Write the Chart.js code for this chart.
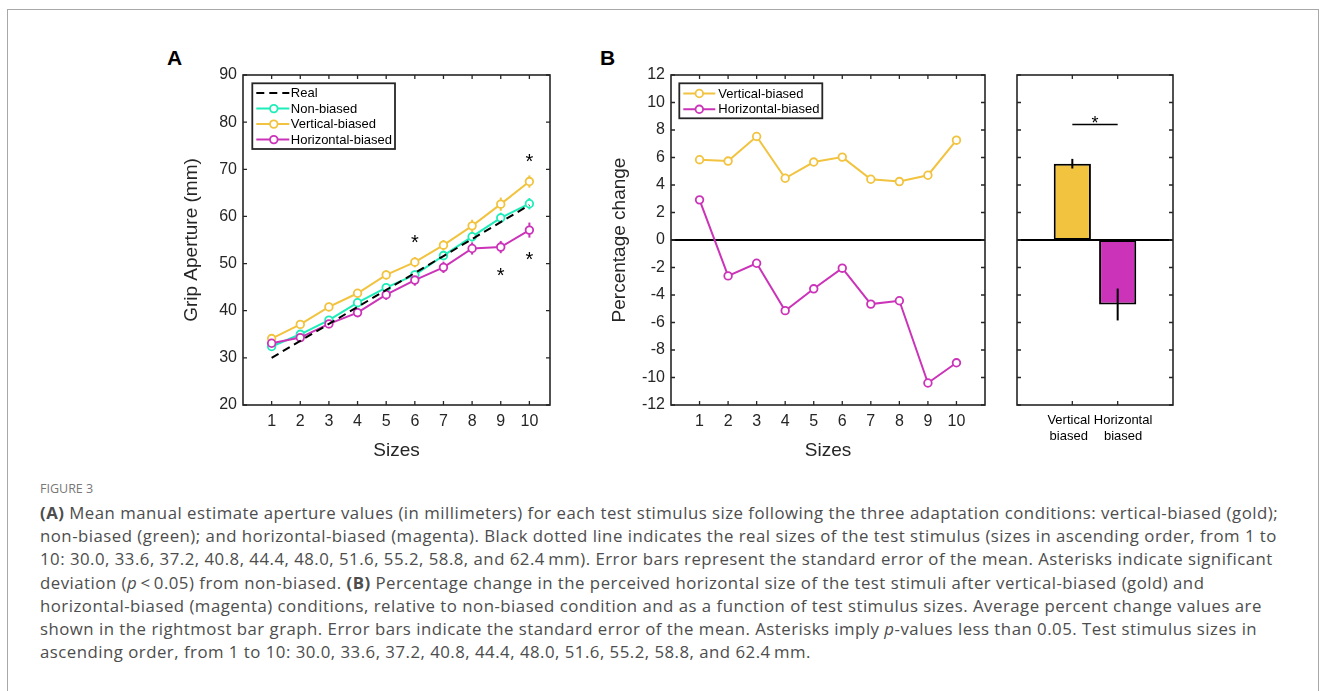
<!DOCTYPE html>
<html>
<head>
<meta charset="utf-8">
<script src="https://cdn.jsdelivr.net/npm/chart.js@4.4.0/dist/chart.umd.min.js"></script>
<style>
  html,body{margin:0;padding:0;background:#fff;}
  body{width:1330px;height:691px;overflow:hidden;position:relative;font-family:"Liberation Sans",Arial,sans-serif;}
  #frame{position:absolute;left:7px;top:9px;width:1312px;height:720px;border:1px solid #a8a8a8;box-sizing:border-box;}
  canvas{position:absolute;}
  #cA{left:150px;top:45px;}
  #cB{left:575px;top:45px;}
  #cC{left:1000px;top:45px;}
  .plab{position:absolute;font:bold 21px/1 "Liberation Sans",Arial,sans-serif;color:#000;}
  #cap{position:absolute;left:40px;top:480px;font-family:"Open Sans","Noto Sans",sans-serif;color:#4d4d4d;}
  #cap .fig{font-size:12.5px;color:#777;margin-bottom:3px;line-height:18px;}
  #cap .ln{font-size:16.8px;line-height:23.2px;white-space:nowrap;}
</style>
</head>
<body>
<div id="frame"></div>
<div class="plab" style="left:167px;top:47px;">A</div>
<div class="plab" style="left:600px;top:47px;">B</div>
<canvas id="cA" width="420" height="435"></canvas>
<canvas id="cB" width="425" height="435"></canvas>
<canvas id="cC" width="190" height="435"></canvas>
<div id="cap">
  <div class="fig">FIGURE 3</div>
  <div class="ln"><b>(A)</b> Mean manual estimate aperture values (in millimeters) for each test stimulus size following the three adaptation conditions: vertical-biased (gold);</div>
  <div class="ln">non-biased (green); and horizontal-biased (magenta). Black dotted line indicates the real sizes of the test stimulus (sizes in ascending order, from 1 to</div>
  <div class="ln">10: 30.0, 33.6, 37.2, 40.8, 44.4, 48.0, 51.6, 55.2, 58.8, and 62.4&#8201;mm). Error bars represent the standard error of the mean. Asterisks indicate significant</div>
  <div class="ln">deviation (<i>p</i>&#8201;&lt;&#8201;0.05) from non-biased. <b>(B)</b> Percentage change in the perceived horizontal size of the test stimuli after vertical-biased (gold) and</div>
  <div class="ln">horizontal-biased (magenta) conditions, relative to non-biased condition and as a function of test stimulus sizes. Average percent change values are</div>
  <div class="ln">shown in the rightmost bar graph. Error bars indicate the standard error of the mean. Asterisks imply <i>p</i>-values less than 0.05. Test stimulus sizes in</div>
  <div class="ln">ascending order, from 1 to 10: 30.0, 33.6, 37.2, 40.8, 44.4, 48.0, 51.6, 55.2, 58.8, and 62.4&#8201;mm.</div>
</div>
<script>
// ---------------- DATA ----------------
const sizes = [1, 2, 3, 4, 5, 6, 7, 8, 9, 10];
const realSizes = [30.0, 33.6, 37.2, 40.8, 44.4, 48.0, 51.6, 55.2, 58.8, 62.4];
const nonBiased = [32.4, 35.0, 38.0, 41.7, 44.9, 47.6, 51.7, 55.7, 59.7, 62.7];
const nonBiasedErr = [0.7, 0.7, 0.8, 0.8, 0.9, 0.9, 1.0, 1.0, 1.1, 1.2];
const verticalBiased = [34.1, 37.1, 40.8, 43.7, 47.6, 50.3, 53.9, 58.0, 62.6, 67.4];
const verticalBiasedErr = [0.8, 0.8, 0.9, 0.9, 1.0, 1.1, 1.1, 1.3, 1.4, 1.3];
const horizontalBiased = [33.1, 34.3, 37.2, 39.6, 43.4, 46.5, 49.2, 53.2, 53.5, 57.1];
const horizontalBiasedErr = [0.8, 0.8, 0.9, 1.0, 1.1, 1.2, 1.2, 1.3, 1.3, 1.6];
const gripTicks = [20, 30, 40, 50, 60, 70, 80, 90];
const starsA = [{x: 6, y: 55.2}, {x: 9, y: 48.3}, {x: 10, y: 72.5}, {x: 10, y: 51.7}];

const pctVertical = [5.84, 5.74, 7.53, 4.49, 5.67, 6.03, 4.42, 4.25, 4.71, 7.26];
const pctHorizontal = [2.92, -2.61, -1.69, -5.14, -3.55, -2.05, -4.66, -4.42, -10.4, -8.93];
const pctTicks = [-12, -10, -8, -6, -4, -2, 0, 2, 4, 6, 8, 10, 12];

const barPositions = [1, 2];
const barLabels = [["Vertical  ", "biased  "], ["   Horizontal", "   biased"]];
const barMeans = [5.55, -4.69];
const barErr = [0.35, 1.16];
const barSig = {from: 1, to: 2, level: 8.4, star: 8.75};

// ---------------- STYLE ----------------
const GOLD = '#F2C33E', GREEN = '#1FEDB9', MAGENTA = '#CB33B8', AXC = '#262626';
const FONT = '"Liberation Sans", Arial, sans-serif';
const xy = (xs, ys) => xs.map((x, i) => ({x, y: ys[i]}));

// caption: even letter spacing so the first line spans the reference width
(function fitCaption() {
  const lines = document.querySelectorAll('#cap .ln');
  const first = lines[0];
  const w = first.getBoundingClientRect().width;
  const n = first.textContent.length;
  const ls = (1238 - w) / n;
  lines.forEach(l => { l.style.letterSpacing = ls.toFixed(3) + 'px'; });
})();

function drawStar(ctx, px, py, size) {
  ctx.save();
  ctx.font = size + 'px ' + FONT;
  ctx.fillStyle = '#000';
  ctx.textAlign = 'center';
  ctx.textBaseline = 'alphabetic';
  const m = ctx.measureText('*');
  ctx.fillText('*', px, py + (m.actualBoundingBoxAscent - m.actualBoundingBoxDescent) / 2);
  ctx.restore();
}

function drawErrors(chart) {
  const {ctx, chartArea: a} = chart;
  const ys = chart.scales.y;
  ctx.save();
  ctx.beginPath(); ctx.rect(a.left, a.top, a.right - a.left, a.bottom - a.top); ctx.clip();
  chart.data.datasets.forEach((ds, di) => {
    if (!ds.errors) return;
    const meta = chart.getDatasetMeta(di);
    meta.data.forEach((el, i) => {
      const v = ds.data[i].y, e = ds.errors[i];
      ctx.beginPath();
      ctx.moveTo(el.x, ys.getPixelForValue(v - e));
      ctx.lineTo(el.x, ys.getPixelForValue(v + e));
      ctx.strokeStyle = ds.errorColor || ds.borderColor;
      ctx.lineWidth = 2;
      ctx.stroke();
    });
  });
  ctx.restore();
}

function drawZero(chart) {
  const {ctx, chartArea: a} = chart;
  const y = chart.scales.y.getPixelForValue(0);
  ctx.save();
  ctx.beginPath(); ctx.moveTo(a.left, y); ctx.lineTo(a.right, y);
  ctx.strokeStyle = '#000'; ctx.lineWidth = 2; ctx.stroke();
  ctx.restore();
}

const matlabAxes = {
  id: 'matlabAxes',
  beforeDatasetsDraw(chart, args, o) {
    if (o.zero === 'before') drawZero(chart);
    if (o.errors === 'before') drawErrors(chart);
  },
  afterDatasetsDraw(chart, args, o) {
    const {ctx, chartArea: a, scales} = chart;
    if (o.zero === 'after') drawZero(chart);
    if (o.errors === 'after') drawErrors(chart);
    if (o.stars) o.stars.forEach(s => drawStar(ctx, scales.x.getPixelForValue(s.x), scales.y.getPixelForValue(s.y), 20));
    if (o.sig) {
      const y = scales.y.getPixelForValue(o.sig.level);
      ctx.save();
      ctx.beginPath();
      ctx.moveTo(scales.x.getPixelForValue(o.sig.from), y);
      ctx.lineTo(scales.x.getPixelForValue(o.sig.to), y);
      ctx.strokeStyle = '#000'; ctx.lineWidth = 1.5; ctx.stroke();
      ctx.restore();
      drawStar(ctx, scales.x.getPixelForValue((o.sig.from + o.sig.to) / 2), scales.y.getPixelForValue(o.sig.star), 18);
    }
    ctx.save();
    ctx.strokeStyle = AXC; ctx.lineWidth = 1.6;
    ctx.strokeRect(a.left, a.top, a.right - a.left, a.bottom - a.top);
    const TL = 4;
    ctx.beginPath();
    scales.x.ticks.forEach(t => {
      const px = scales.x.getPixelForValue(t.value);
      ctx.moveTo(px, a.bottom); ctx.lineTo(px, a.bottom - TL);
      ctx.moveTo(px, a.top); ctx.lineTo(px, a.top + TL);
    });
    scales.y.ticks.forEach(t => {
      const py = scales.y.getPixelForValue(t.value);
      ctx.moveTo(a.left, py); ctx.lineTo(a.left + TL, py);
      ctx.moveTo(a.right, py); ctx.lineTo(a.right - TL, py);
    });
    ctx.lineWidth = 1.3; ctx.stroke();
    ctx.restore();
    if (o.legend) {
      const L = o.legend;
      ctx.save();
      ctx.fillStyle = '#fff';
      ctx.fillRect(L.x, L.y, L.w, L.h);
      ctx.strokeStyle = AXC; ctx.lineWidth = 1.8;
      ctx.strokeRect(L.x, L.y, L.w, L.h);
      const items = chart.data.datasets.filter(d => !d.noLegend);
      items.forEach((ds, k) => {
        const cy = L.y + L.first + k * L.row;
        ctx.beginPath();
        ctx.setLineDash(ds.borderDash || []);
        ctx.moveTo(L.x + L.l0, cy); ctx.lineTo(L.x + L.l1, cy);
        ctx.strokeStyle = ds.borderColor; ctx.lineWidth = 2; ctx.stroke();
        ctx.setLineDash([]);
        if (ds.pointRadius > 0) {
          ctx.beginPath();
          ctx.arc(L.x + L.mk, cy, ds.pointRadius, 0, Math.PI * 2);
          ctx.fillStyle = '#fff'; ctx.fill();
          ctx.strokeStyle = ds.borderColor; ctx.lineWidth = ds.pointBorderWidth; ctx.stroke();
        }
        ctx.fillStyle = '#000';
        ctx.font = '13px ' + FONT;
        ctx.textAlign = 'left'; ctx.textBaseline = 'middle';
        ctx.fillText(ds.label, L.x + L.tx, cy + 0.5);
      });
      ctx.restore();
    }
  }
};

function lineDs(label, xs, ys, errs, color, order) {
  return {
    label, data: xy(xs, ys), errors: errs, borderColor: color, backgroundColor: color,
    borderWidth: 2, pointRadius: 3.8, pointBorderWidth: 1.8, pointBackgroundColor: '#fff',
    pointBorderColor: color, tension: 0, order
  };
}

function xScale(min, max, tickVals, title, extra) {
  return Object.assign({
    type: 'linear', min, max, offset: false,
    afterBuildTicks: s => { s.ticks = tickVals.map(v => ({value: v})); },
    ticks: {color: AXC, font: {family: FONT, size: 16}, padding: 7, maxRotation: 0, autoSkip: false},
    grid: {display: false, drawTicks: false, offset: false}, border: {display: false},
    title: {display: !!title, text: title, color: AXC, font: {family: FONT, size: 19}, padding: {top: 0, bottom: 17.6}},
    afterFit: s => { s.height = 75; }
  }, extra || {});
}
function yScale(min, max, tickVals, title, width, titlePad, showTicks) {
  return {
    type: 'linear', min, max,
    afterBuildTicks: s => { s.ticks = tickVals.map(v => ({value: v})); },
    ticks: {display: showTicks, color: AXC, font: {family: FONT, size: 16}, padding: 6},
    grid: {display: false, drawTicks: false}, border: {display: false},
    title: {display: !!title, text: title, color: AXC, font: {family: FONT, size: 19}, padding: {top: titlePad, bottom: 0}},
    afterFit: s => { s.width = width; }
  };
}

const common = {responsive: false, animation: false, devicePixelRatio: 1, events: []};

// ---------------- PANEL A ----------------
new Chart(document.getElementById('cA'), {
  type: 'line',
  data: {datasets: [
    {label: 'Real', data: xy(sizes, realSizes), borderColor: '#000', borderDash: [8, 5], borderWidth: 2,
     pointRadius: 0, tension: 0, order: 0},
    lineDs('Non-biased', sizes, nonBiased, nonBiasedErr, GREEN, 3),
    lineDs('Vertical-biased', sizes, verticalBiased, verticalBiasedErr, GOLD, 2),
    lineDs('Horizontal-biased', sizes, horizontalBiased, horizontalBiasedErr, MAGENTA, 1)
  ]},
  options: Object.assign({}, common, {
    layout: {padding: {top: 30, right: 20, left: 0, bottom: 0}},
    plugins: {
      legend: {display: false}, tooltip: {enabled: false},
      matlabAxes: {errors: 'before', stars: starsA,
        legend: {x: 102.3, y: 38.3, w: 142.7, h: 65.7, first: 9.8, row: 15.5, l0: 4, l1: 37, mk: 21.5, tx: 38.5}}
    },
    scales: {
      x: xScale(0, 10.72, sizes, 'Sizes'),
      y: yScale(20, 90, gripTicks, 'Grip Aperture (mm)', 93, 30.6, true)
    }
  }),
  plugins: [matlabAxes]
});

// ---------------- PANEL B ----------------
new Chart(document.getElementById('cB'), {
  type: 'line',
  data: {datasets: [
    lineDs('Vertical-biased', sizes, pctVertical, null, GOLD, 2),
    lineDs('Horizontal-biased', sizes, pctHorizontal, null, MAGENTA, 1)
  ]},
  options: Object.assign({}, common, {
    layout: {padding: {top: 30, right: 15, left: 0, bottom: 0}},
    plugins: {
      legend: {display: false}, tooltip: {enabled: false},
      matlabAxes: {zero: 'before',
        legend: {x: 104.3, y: 38.3, w: 143, h: 35, first: 10.2, row: 15.8, l0: 4, l1: 36, mk: 20, tx: 39}}
    },
    scales: {
      x: xScale(0, 11, sizes, 'Sizes'),
      y: yScale(-12, 12, pctTicks, 'Percentage change', 96, 33.6, true)
    }
  }),
  plugins: [matlabAxes]
});

// ---------------- PANEL B (bars) ----------------
new Chart(document.getElementById('cC'), {
  type: 'bar',
  data: {datasets: [{
    label: 'Average', data: xy(barPositions, barMeans), errors: barErr, errorColor: '#000',
    backgroundColor: [GOLD, MAGENTA], borderColor: '#000', borderWidth: 2, borderSkipped: false,
    barPercentage: 0.82, categoryPercentage: 1
  }]},
  options: Object.assign({}, common, {
    layout: {padding: {top: 30, right: 17, left: 0, bottom: 0}},
    plugins: {
      legend: {display: false}, tooltip: {enabled: false},
      matlabAxes: {zero: 'after', errors: 'after', sig: barSig}
    },
    scales: {
      x: xScale(-0.22, 3.22, barPositions, '', {
        ticks: {color: '#000', font: {family: FONT, size: 13, lineHeight: 1.23}, padding: 7, maxRotation: 0, autoSkip: false,
                callback: (v, i) => barLabels[i]}
      }),
      y: yScale(-12, 12, pctTicks, '', 17, 0, false)
    }
  }),
  plugins: [matlabAxes]
});
</script>
</body>
</html>
